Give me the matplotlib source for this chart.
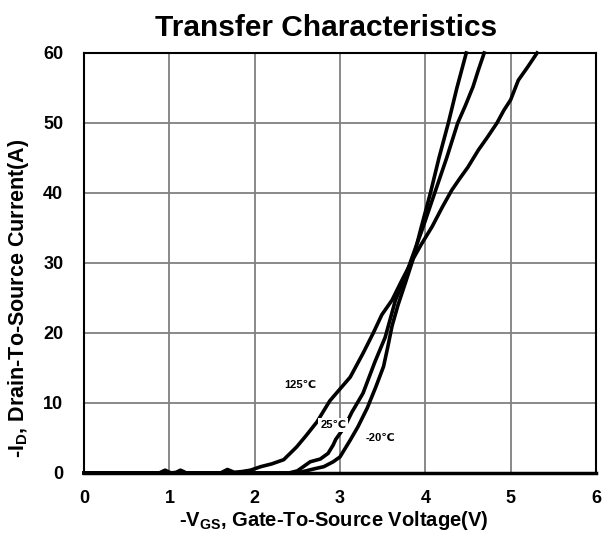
import matplotlib
matplotlib.use("Agg")
import matplotlib.pyplot as plt

plt.rcParams['font.family'] = ['Liberation Sans', 'DejaVu Sans']
plt.rcParams['font.weight'] = 'bold'
plt.rcParams['mathtext.fontset'] = 'custom'
plt.rcParams['mathtext.rm'] = 'Liberation Sans:bold'
plt.rcParams['mathtext.bf'] = 'Liberation Sans:bold'
plt.rcParams['mathtext.it'] = 'Liberation Sans:bold'

# -Vgs (V) vs -Id (A)
vgs_125 = [0.0, 0.88, 0.95, 1.02, 1.08, 1.13, 1.2, 1.6, 1.68, 1.76, 1.85, 1.95, 2.07, 2.2, 2.34,
           2.49, 2.6, 2.73, 2.88, 3.0, 3.12, 3.27, 3.39, 3.49, 3.61, 3.72, 3.83, 3.95, 4.08,
           4.2, 4.31, 4.4, 4.5, 4.62, 4.73, 4.84, 4.92, 5.0, 5.09, 5.2, 5.31]
id_125 = [0.0, 0.0, 0.4, 0.0, 0.1, 0.4, 0.0, 0.0, 0.5, 0.1, 0.2, 0.4, 0.9, 1.3, 1.9,
          3.7, 5.3, 7.3, 10.3, 12.0, 13.7, 17.1, 20.0, 22.6, 24.7, 27.4, 30.0, 32.6, 35.2,
          38.0, 40.4, 42.0, 43.7, 46.1, 48.0, 50.0, 51.8, 53.3, 56.1, 58.0, 60.0]

vgs_25 = [0.0, 2.4, 2.5, 2.57, 2.65, 2.77, 2.86, 2.92, 2.95, 3.05, 3.14, 3.27, 3.41, 3.53,
          3.65, 3.75, 3.83, 3.97, 4.11, 4.25, 4.38, 4.47, 4.56, 4.62, 4.69]
id_25 = [0.0, 0.0, 0.3, 0.9, 1.6, 2.0, 2.8, 4.0, 4.8, 6.5, 8.7, 11.4, 15.9, 19.4,
         24.7, 27.5, 30.3, 35.0, 40.0, 45.0, 50.0, 52.5, 55.2, 57.5, 60.0]

vgs_m20 = [0.0, 2.5, 2.6, 2.7, 2.81, 2.92, 3.0, 3.12, 3.21, 3.32, 3.42, 3.51, 3.56, 3.61,
           3.68, 3.77, 3.85, 3.95, 4.06, 4.16, 4.27, 4.37, 4.48]
id_m20 = [0.0, 0.0, 0.3, 0.6, 0.9, 1.6, 2.3, 4.7, 6.6, 9.3, 12.3, 15.2, 18.0, 21.0,
          24.0, 27.3, 30.3, 35.0, 40.0, 45.0, 50.0, 55.0, 60.0]

fig = plt.figure(figsize=(6.05, 5.33), dpi=100)
ax = fig.add_axes([0.139, 0.1126, 0.846, 0.788])

ax.set_xlim(0, 6)
ax.set_ylim(0, 60)
ax.set_xticks(range(0, 7))
ax.set_yticks(range(0, 61, 10))
ax.grid(True, color='#808080', linewidth=1.3)
ax.set_axisbelow(True)
ax.tick_params(length=0, labelsize=13)
ax.tick_params(axis='x', pad=12)
ax.tick_params(axis='y', pad=15)
for lab in ax.get_xticklabels() + ax.get_yticklabels():
    lab.set_fontweight('bold')
for s in ax.spines.values():
    s.set_linewidth(1.5)
ax.spines['bottom'].set_linewidth(2.5)

lw = 2.6
ax.plot(vgs_125, id_125, color='black', linewidth=lw, clip_on=False)
ax.plot(vgs_25, id_25, color='black', linewidth=lw, clip_on=False)
ax.plot(vgs_m20, id_m20, color='black', linewidth=lw, clip_on=False)

box = dict(facecolor='white', edgecolor='none', pad=1.5)
ax.text(2.53, 12.6, '125℃', fontsize=8, fontweight='bold', ha='center', va='center')
ax.text(2.92, 6.8, '25℃', fontsize=8, fontweight='bold', ha='center', va='center', bbox=box)
ax.text(3.47, 5.0, '-20℃', fontsize=8, fontweight='bold', ha='center', va='center')

fig.text(0.539, 0.9325, 'Transfer Characteristics', fontsize=21.5, fontweight='bold',
         ha='center', va='baseline')
fig.text(0.552, 0.014, r'-V$_{\mathrm{GS}}$, Gate-To-Source Voltage(V)', fontsize=14.5,
         fontweight='bold', ha='center', va='baseline')
fig.text(0.03, 0.441, r'-I$_{\mathrm{D}}$, Drain-To-Source Current(A)', fontsize=15.5,
         fontweight='bold', ha='center', va='center', rotation=90)

fig.savefig('out.png', dpi=100)
